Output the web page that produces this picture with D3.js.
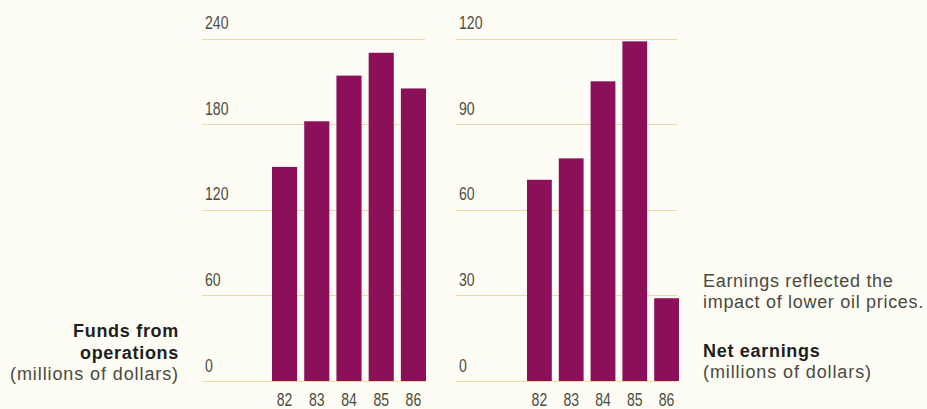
<!DOCTYPE html>
<html><head><meta charset="utf-8">
<script src="https://cdn.jsdelivr.net/npm/d3@7"></script>
<style>
body{margin:0;background:#fdfcf5;}
svg{display:block;}
</style></head>
<body>
<svg id="chart" width="927" height="409"></svg>
<script>
const years = ["82","83","84","85","86"];
const fundsValues = [150, 182, 214, 230, 205];
const earningsValues = [70.5, 78, 105, 119, 29];
const fundsTicks = [0, 60, 120, 180, 240];
const earningsTicks = [0, 30, 60, 90, 120];

const svg = d3.select("#chart");
svg.append("rect").attr("width",927).attr("height",409).attr("fill","#fdfcf5");

const barColor = "#8c0f5a";
const gridColor = "#eed9a0";
const tickFont = "'Liberation Sans',Arial,sans-serif";
const textFont = "'Liberation Sans',Arial,Helvetica,sans-serif";
const tickColor = "#4d4d42";

function panel(opts){
  const g = svg.append("g");
  const y = d3.scaleLinear().domain([0, opts.max]).range([381, 38.5]);
  const x = d3.scaleBand().domain(years).range([opts.barX0, opts.barX1]).paddingInner(0.22).paddingOuter(0);
  g.selectAll("line.grid").data(opts.ticks).join("line")
    .attr("x1", opts.gridX0).attr("x2", opts.gridX1)
    .attr("y1", d => Math.round(y(d)) + 0.5).attr("y2", d => Math.round(y(d)) + 0.5)
    .attr("stroke", gridColor).attr("stroke-width", 1.2);
  g.selectAll("text.tick").data(opts.ticks).join("text")
    .attr("transform", d => `translate(${opts.gridX0 + 3},${y(d) - 9.5}) scale(0.76,1)`)
    .attr("font-family", tickFont).attr("font-size", 18.5)
    .attr("fill", tickColor).text(d => d);
  g.selectAll("rect.bar").data(opts.values).join("rect")
    .attr("x", (d,i) => x(years[i])).attr("width", x.bandwidth())
    .attr("y", d => y(d)).attr("height", d => y(0) - y(d))
    .attr("fill", barColor);
  g.selectAll("text.xl").data(years).join("text")
    .attr("transform", d => `translate(${x(d) + x.bandwidth()/2},406) scale(0.76,1)`)
    .attr("text-anchor","middle")
    .attr("font-family", tickFont).attr("font-size", 18.5)
    .attr("fill", tickColor).text(d => d);
}

panel({max:240, ticks:fundsTicks, values:fundsValues, gridX0:202, gridX1:425, barX0:272, barX1:426});
panel({max:120, ticks:earningsTicks, values:earningsValues, gridX0:456, gridX1:677, barX0:527, barX1:679});

const bold = "#1e1e1e", reg = "#4a4a40";
const lc = svg.append("g").attr("font-family", textFont).attr("text-anchor","end").attr("font-size",18).attr("letter-spacing",0.7);
lc.append("text").attr("x",179).attr("y",337).attr("font-weight","bold").attr("fill",bold).text("Funds from");
lc.append("text").attr("x",179).attr("y",359).attr("font-weight","bold").attr("fill",bold).text("operations");
lc.append("text").attr("x",179).attr("y",380).attr("letter-spacing",0.9).attr("fill",reg).text("(millions of dollars)");

const rc = svg.append("g").attr("font-family", textFont).attr("font-size",18).attr("letter-spacing",0.7);
rc.append("text").attr("x",703).attr("y",287).attr("fill",reg).text("Earnings reflected the");
rc.append("text").attr("x",703).attr("y",308).attr("fill",reg).text("impact of lower oil prices.");
rc.append("text").attr("x",703).attr("y",357).attr("font-weight","bold").attr("fill",bold).text("Net earnings");
rc.append("text").attr("x",703).attr("y",378).attr("letter-spacing",0.9).attr("fill",reg).text("(millions of dollars)");
</script>
</body></html>
